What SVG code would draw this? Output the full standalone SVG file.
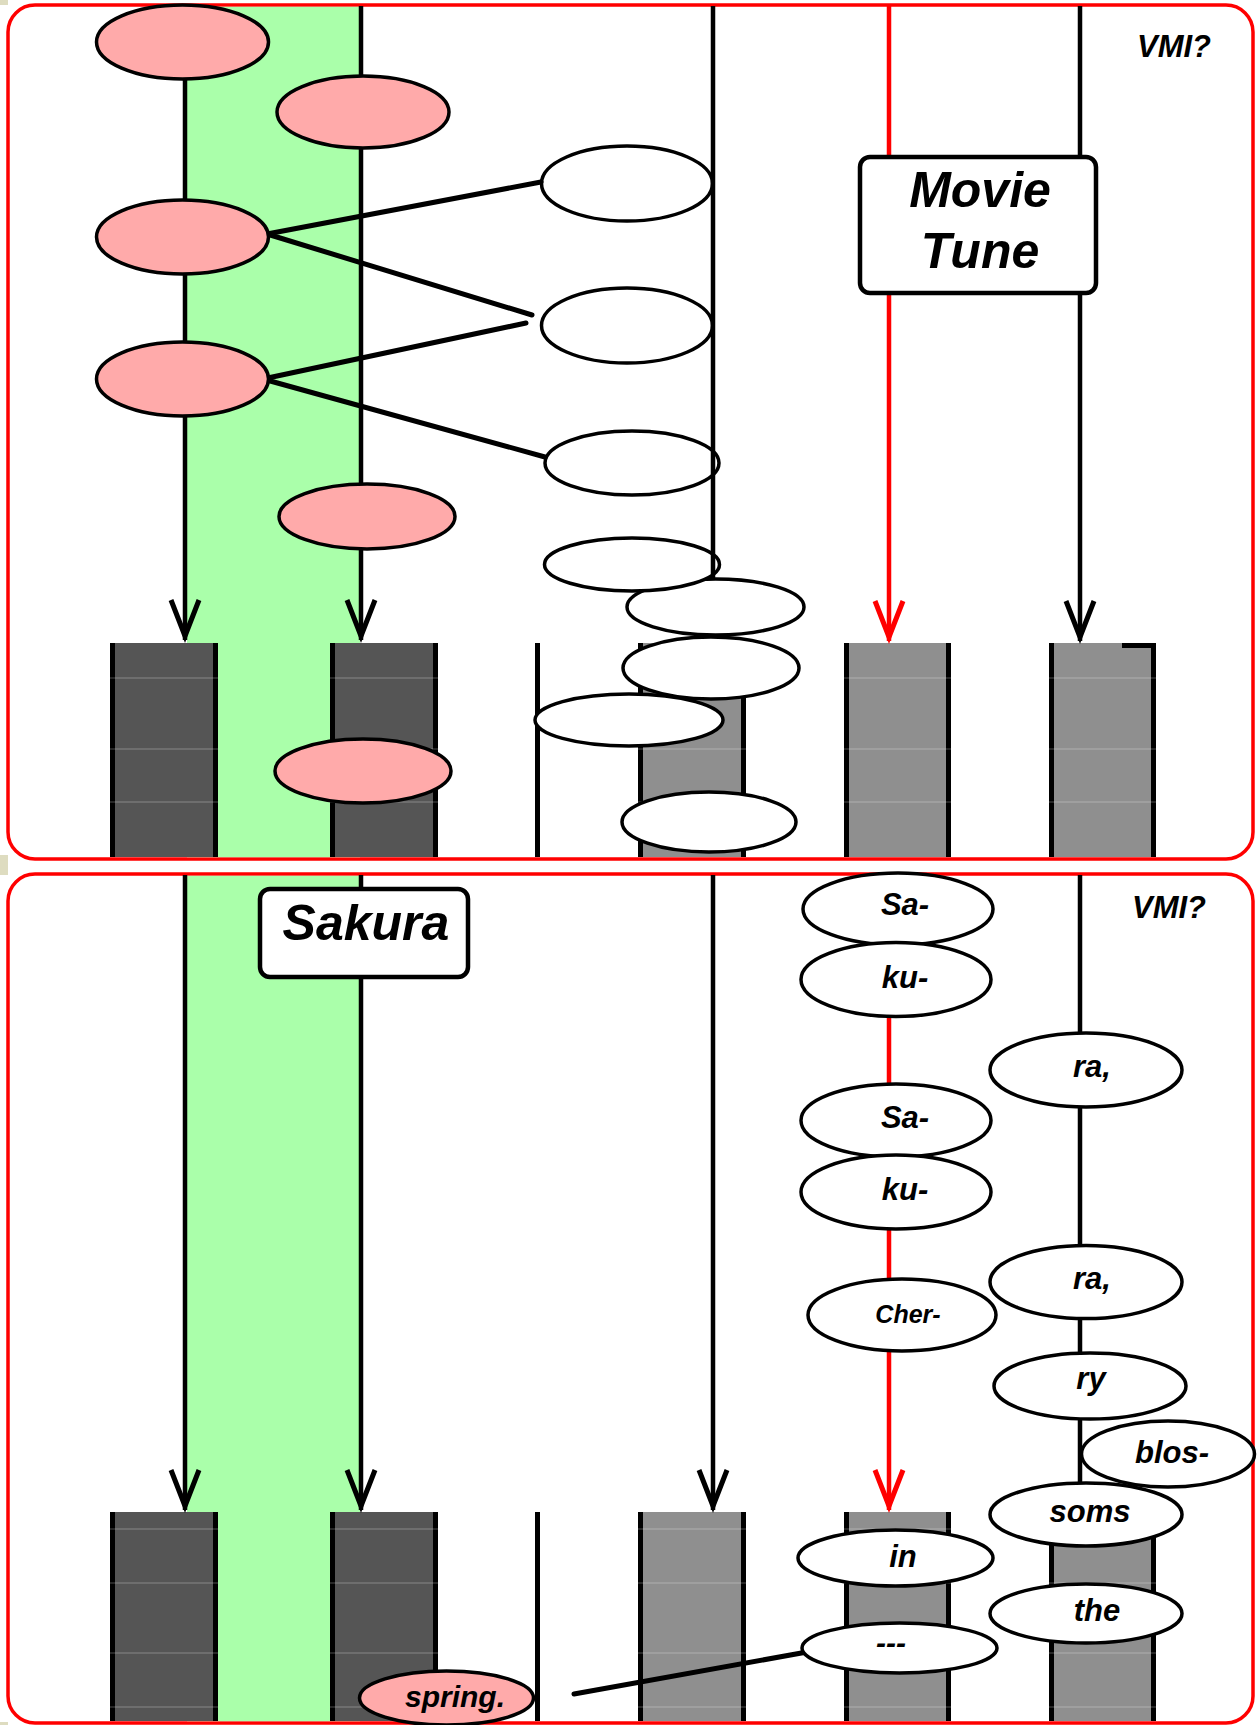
<svg xmlns="http://www.w3.org/2000/svg" width="1257" height="1725" viewBox="0 0 1257 1725">
<style>
.bg{fill:#ffffff}
.beige{fill:#dedcc0}
.panel{fill:#ffffff;stroke:#ff0000;stroke-width:3.5}
.green{fill:#aaffaa}
.dark{fill:#555555}
.mid{fill:#8f8f8f}
.edge{fill:#000000}
.grid{stroke:#ffffff;stroke-opacity:0.3;stroke-width:1}
.ln{fill:none;stroke:#000000;stroke-width:4.5}
.dg{fill:none;stroke:#000000;stroke-width:5;stroke-linecap:round}
.rl{fill:none;stroke:#ff0000;stroke-width:4.5}
.pink{fill:#ffaaaa;stroke:#000000;stroke-width:3.5}
.wht{fill:#ffffff;stroke:#000000;stroke-width:3.5}
.box{fill:#ffffff;stroke:#000000;stroke-width:4.5}
.t{font-family:"Liberation Sans",Arial,sans-serif;font-weight:bold;font-style:italic;text-anchor:middle;fill:#000000}
</style>
<defs>
<marker id="ab" viewBox="-44 -18 48 36" refX="0" refY="0" markerWidth="48" markerHeight="36" markerUnits="userSpaceOnUse" orient="auto">
<path d="M-40,-14 L-4,0 L-40,14" fill="none" stroke="#000000" stroke-width="5"/>
</marker>
<marker id="ar" viewBox="-44 -18 48 36" refX="0" refY="0" markerWidth="48" markerHeight="36" markerUnits="userSpaceOnUse" orient="auto">
<path d="M-40,-14 L-4,0 L-40,14" fill="none" stroke="#ff0000" stroke-width="5"/>
</marker>
</defs>
<rect class="bg" x="0" y="0" width="1257" height="1725"/>
<rect class="beige" x="0" y="0" width="8" height="5"/>
<rect class="beige" x="0" y="855" width="8" height="20"/>
<rect class="beige" x="0" y="1722" width="8" height="3"/>

<g id="panel1">
<rect class="panel" x="8" y="5" width="1245" height="854" rx="27" ry="27"/>
<rect class="green" x="187" y="6.8" width="173" height="850.4"/>
</g>
<g id="panel2">
<rect class="panel" x="8" y="874" width="1245" height="849" rx="27" ry="27"/>
<rect class="green" x="187" y="875.8" width="173" height="845.4"/>
</g>

<g id="bars1">
<rect class="dark" x="110" y="643" width="108" height="214"/>
<rect class="edge" x="110" y="643" width="5" height="214"/>
<rect class="edge" x="213" y="643" width="5" height="214"/>
<rect class="dark" x="330" y="643" width="108" height="214"/>
<rect class="edge" x="330" y="643" width="5" height="214"/>
<rect class="edge" x="433" y="643" width="5" height="214"/>
<rect class="edge" x="535" y="643" width="5" height="214"/>
<rect class="mid" x="638" y="643" width="108" height="214"/>
<rect class="edge" x="638" y="643" width="5" height="214"/>
<rect class="edge" x="741" y="643" width="5" height="214"/>
<rect class="mid" x="844" y="643" width="107" height="214"/>
<rect class="edge" x="844" y="643" width="5" height="214"/>
<rect class="edge" x="946" y="643" width="5" height="214"/>
<rect class="mid" x="1049" y="643" width="107" height="214"/>
<rect class="edge" x="1049" y="643" width="5" height="214"/>
<rect class="edge" x="1151" y="643" width="5" height="214"/>
<rect class="edge" x="1122" y="643" width="34" height="5"/>
</g>
<g id="bars2">
<rect class="dark" x="110" y="1512" width="108" height="209"/>
<rect class="edge" x="110" y="1512" width="5" height="209"/>
<rect class="edge" x="213" y="1512" width="5" height="209"/>
<rect class="dark" x="330" y="1512" width="108" height="209"/>
<rect class="edge" x="330" y="1512" width="5" height="209"/>
<rect class="edge" x="433" y="1512" width="5" height="209"/>
<rect class="edge" x="535" y="1512" width="5" height="209"/>
<rect class="mid" x="638" y="1512" width="108" height="209"/>
<rect class="edge" x="638" y="1512" width="5" height="209"/>
<rect class="edge" x="741" y="1512" width="5" height="209"/>
<rect class="mid" x="844" y="1512" width="107" height="209"/>
<rect class="edge" x="844" y="1512" width="5" height="209"/>
<rect class="edge" x="946" y="1512" width="5" height="209"/>
<rect class="mid" x="1049" y="1512" width="107" height="209"/>
<rect class="edge" x="1049" y="1512" width="5" height="209"/>
<rect class="edge" x="1151" y="1512" width="5" height="209"/>
</g>

<g id="grid">
<path class="grid" d="M110,678 H218 M330,678 H438 M638,678 H746 M844,678 H951 M1049,678 H1156 M110,749 H218 M330,749 H438 M638,749 H746 M844,749 H951 M1049,749 H1156 M110,802 H218 M330,802 H438 M638,802 H746 M844,802 H951 M1049,802 H1156"/>
<path class="grid" d="M110,1529 H218 M330,1529 H438 M638,1529 H746 M844,1529 H951 M1049,1529 H1156 M110,1583 H218 M330,1583 H438 M638,1583 H746 M844,1583 H951 M1049,1583 H1156 M110,1653 H218 M330,1653 H438 M638,1653 H746 M844,1653 H951 M1049,1653 H1156 M110,1707 H218 M330,1707 H438 M638,1707 H746 M844,1707 H951 M1049,1707 H1156"/>
</g>

<g id="nodes-back">
<g id="w1"><ellipse class="wht" cx="627" cy="183.5" rx="85.5" ry="37.5"/></g>
<g id="w2"><ellipse class="wht" cx="627" cy="325.5" rx="85.5" ry="37.5"/></g>
<g id="w3"><ellipse class="wht" cx="632" cy="463" rx="87" ry="32"/></g>
<g id="w5"><ellipse class="wht" cx="715.5" cy="607" rx="88.5" ry="28"/></g>
<g id="w4"><ellipse class="wht" cx="632" cy="564.5" rx="87.5" ry="26.5"/></g>
</g>

<g id="connectors">
<path class="ln" d="M185,6 V640" marker-end="url(#ab)"/>
<path class="ln" d="M361,6 V640" marker-end="url(#ab)"/>
<path class="ln" d="M713,6 V579"/>
<path class="rl" d="M889,6 V641" marker-end="url(#ar)"/>
<path class="ln" d="M1080,6 V641" marker-end="url(#ab)"/>
<path class="dg" d="M267,234 L541,182"/>
<path class="dg" d="M267,234 L532,315"/>
<path class="dg" d="M263,379 L526,323"/>
<path class="dg" d="M263,379 L545,457"/>
<path class="ln" d="M185,875 V1510" marker-end="url(#ab)"/>
<path class="ln" d="M361,875 V1510" marker-end="url(#ab)"/>
<path class="ln" d="M713,875 V1510" marker-end="url(#ab)"/>
<path class="rl" d="M889,875 V1510" marker-end="url(#ar)"/>
<path class="ln" d="M1080,875 V1484"/>
<path class="dg" d="M574,1694 L807,1652"/>
</g>

<g id="nodes">
<g id="p1"><ellipse class="pink" cx="182.5" cy="42" rx="86" ry="37"/></g>
<g id="p2"><ellipse class="pink" cx="363" cy="112" rx="86" ry="36"/></g>
<g id="p3"><ellipse class="pink" cx="182.5" cy="237" rx="86" ry="37"/></g>
<g id="p4"><ellipse class="pink" cx="182.5" cy="379" rx="86" ry="37"/></g>
<g id="p5"><ellipse class="pink" cx="367" cy="516.5" rx="88" ry="32.5"/></g>
<g id="p6"><ellipse class="pink" cx="363" cy="771" rx="88" ry="32"/></g>
<g id="w6"><ellipse class="wht" cx="711" cy="668" rx="88" ry="31"/></g>
<g id="w7"><ellipse class="wht" cx="629" cy="720" rx="94" ry="26"/></g>
<g id="w8"><ellipse class="wht" cx="709" cy="822" rx="87" ry="30"/></g>
<g id="movie-tune">
<rect class="box" x="860" y="157" width="236" height="136" rx="10" ry="10"/>
<text class="t" x="980" y="207" font-size="50">Movie</text>
<text class="t" x="980" y="268" font-size="50">Tune</text>
</g>
<g id="vmi1"><text class="t" x="1174" y="57" font-size="31">VMI?</text></g>

<g id="sakura">
<rect class="box" x="260" y="889" width="208" height="88" rx="10" ry="10"/>
<text class="t" x="366" y="940" font-size="50">Sakura</text>
</g>
<g id="vmi2"><text class="t" x="1169" y="918" font-size="31">VMI?</text></g>
<g id="sa1"><ellipse class="wht" cx="898" cy="909" rx="95" ry="36"/><text class="t" x="905" y="915" font-size="31">Sa-</text></g>
<g id="ku1"><ellipse class="wht" cx="896" cy="979.5" rx="95" ry="37"/><text class="t" x="905" y="988" font-size="31">ku-</text></g>
<g id="ra1"><ellipse class="wht" cx="1086" cy="1070" rx="96" ry="37"/><text class="t" x="1092" y="1077" font-size="31">ra,</text></g>
<g id="sa2"><ellipse class="wht" cx="896" cy="1120.5" rx="95" ry="36.5"/><text class="t" x="905" y="1128" font-size="31">Sa-</text></g>
<g id="ku2"><ellipse class="wht" cx="896" cy="1192" rx="95" ry="37"/><text class="t" x="905" y="1200" font-size="31">ku-</text></g>
<g id="ra2"><ellipse class="wht" cx="1086" cy="1282" rx="96" ry="36.5"/><text class="t" x="1092" y="1289" font-size="31">ra,</text></g>
<g id="cher"><ellipse class="wht" cx="902" cy="1315" rx="94" ry="36"/><text class="t" x="908" y="1323" font-size="25">Cher-</text></g>
<g id="ry"><ellipse class="wht" cx="1090" cy="1386" rx="96" ry="33"/><text class="t" x="1091" y="1389" font-size="31">ry</text></g>
<g id="blos"><ellipse class="wht" cx="1168" cy="1454" rx="86.5" ry="33"/><text class="t" x="1172" y="1463" font-size="31">blos-</text></g>
<g id="soms"><ellipse class="wht" cx="1086" cy="1514.5" rx="96" ry="31.5"/><text class="t" x="1090" y="1522" font-size="31">soms</text></g>
<g id="in"><ellipse class="wht" cx="895.5" cy="1558" rx="97.5" ry="28"/><text class="t" x="903" y="1567" font-size="31">in</text></g>
<g id="the"><ellipse class="wht" cx="1086" cy="1613.5" rx="96" ry="29.5"/><text class="t" x="1097" y="1621" font-size="31">the</text></g>
<g id="dash"><ellipse class="wht" cx="899.5" cy="1648" rx="97.5" ry="25"/><text class="t" x="891" y="1653" font-size="30">---</text></g>
<g id="spring"><ellipse class="pink" cx="446.5" cy="1698" rx="87" ry="27"/><text class="t" x="455" y="1707" font-size="30">spring.</text></g>
</g>
</svg>
